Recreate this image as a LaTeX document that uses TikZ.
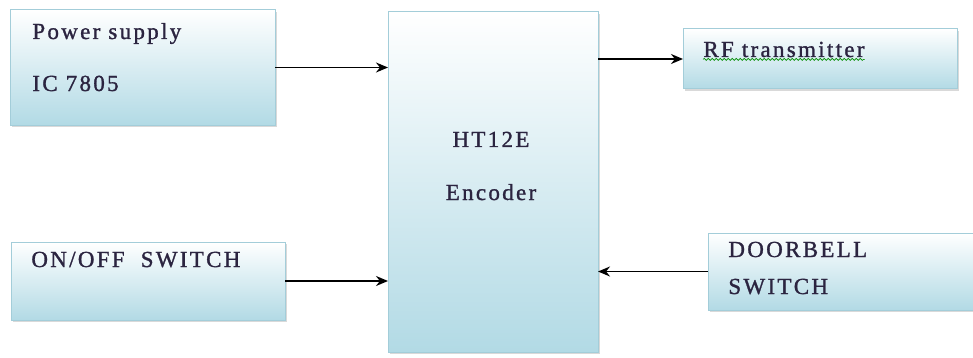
\documentclass[tikz,border=0pt]{standalone}
\usepackage{fontspec}
\setmainfont{Liberation Serif}[LetterSpace=10,FakeBold=1.2]
\usetikzlibrary{arrows.meta,shadows,decorations.pathmorphing}

\definecolor{boxblue}{HTML}{B2DAE5}
\definecolor{boxedge}{HTML}{A3CDD9}
\definecolor{inkdark}{HTML}{2B2440}

\tikzset{
  blockbox/.style={rectangle, draw=boxedge, line width=0.5pt,
    top color=white, bottom color=boxblue, inner sep=0pt, outer sep=0pt,
    drop shadow={shadow xshift=1pt, shadow yshift=-1pt, opacity=0.3}},
  lbl/.style={inner sep=0pt, text=inkdark,
    font=\fontsize{11.5pt}{13pt}\selectfont},
  flow/.style={-{Stealth[length=6pt,width=5pt]}, line width=0.9pt}
}

\begin{document}
\begin{tikzpicture}[x=0.5pt,y=-0.5pt,>=stealth]
\useasboundingbox (0,0) rectangle (973,358);

% blocks
\node[blockbox, minimum width=132.5pt, minimum height=57.5pt] (pwr) at (142.5,67.5) {};
\node[blockbox, minimum width=105pt, minimum height=170pt] (enc) at (493,182) {};
\node[blockbox, minimum width=137pt, minimum height=30pt] (rf) at (820,59) {};
\node[blockbox, minimum width=137pt, minimum height=39pt] (onoff) at (148,281) {};
\node[blockbox, minimum width=138.5pt, minimum height=38.5pt] (bell) at (846.5,271.5) {};

% labels
\node[lbl, anchor=base west] (pwrtop) at (32,39) {Power supply};
\node[lbl, anchor=base west] (pwrbot) at (32,91) {IC 7805};
\node[lbl, anchor=base] (enctop) at (491,147) {HT12E};
\node[lbl, anchor=base] (encbot) at (491,200) {Encoder};
\node[lbl, anchor=base west] (rftxt) at (703,57) {RF transmitter};
\node[lbl, anchor=base west] (onofftxt) at (31,267) {ON/OFF\ \ SWITCH};
\node[lbl, anchor=base west] (belltop) at (728,257) {DOORBELL};
\node[lbl, anchor=base west] (bellbot) at (728,294) {SWITCH};

% spell-check squiggle
\draw[green!55!black, line width=0.3pt, decorate,
  decoration={snake, amplitude=0.5pt, segment length=2pt}]
  ([yshift=-1.2pt]rftxt.base west) -- ([yshift=-1.2pt]rftxt.base east);

% signal flow
\draw[flow] (pwr.east) -- (pwr.east -| enc.west);
\draw[flow] (rf.west -| enc.east) -- (rf.west);
\draw[flow] (onoff.east) -- (onoff.east -| enc.west);
\draw[flow] (bell.west) -- (bell.west -| enc.east);
\end{tikzpicture}
\end{document}
